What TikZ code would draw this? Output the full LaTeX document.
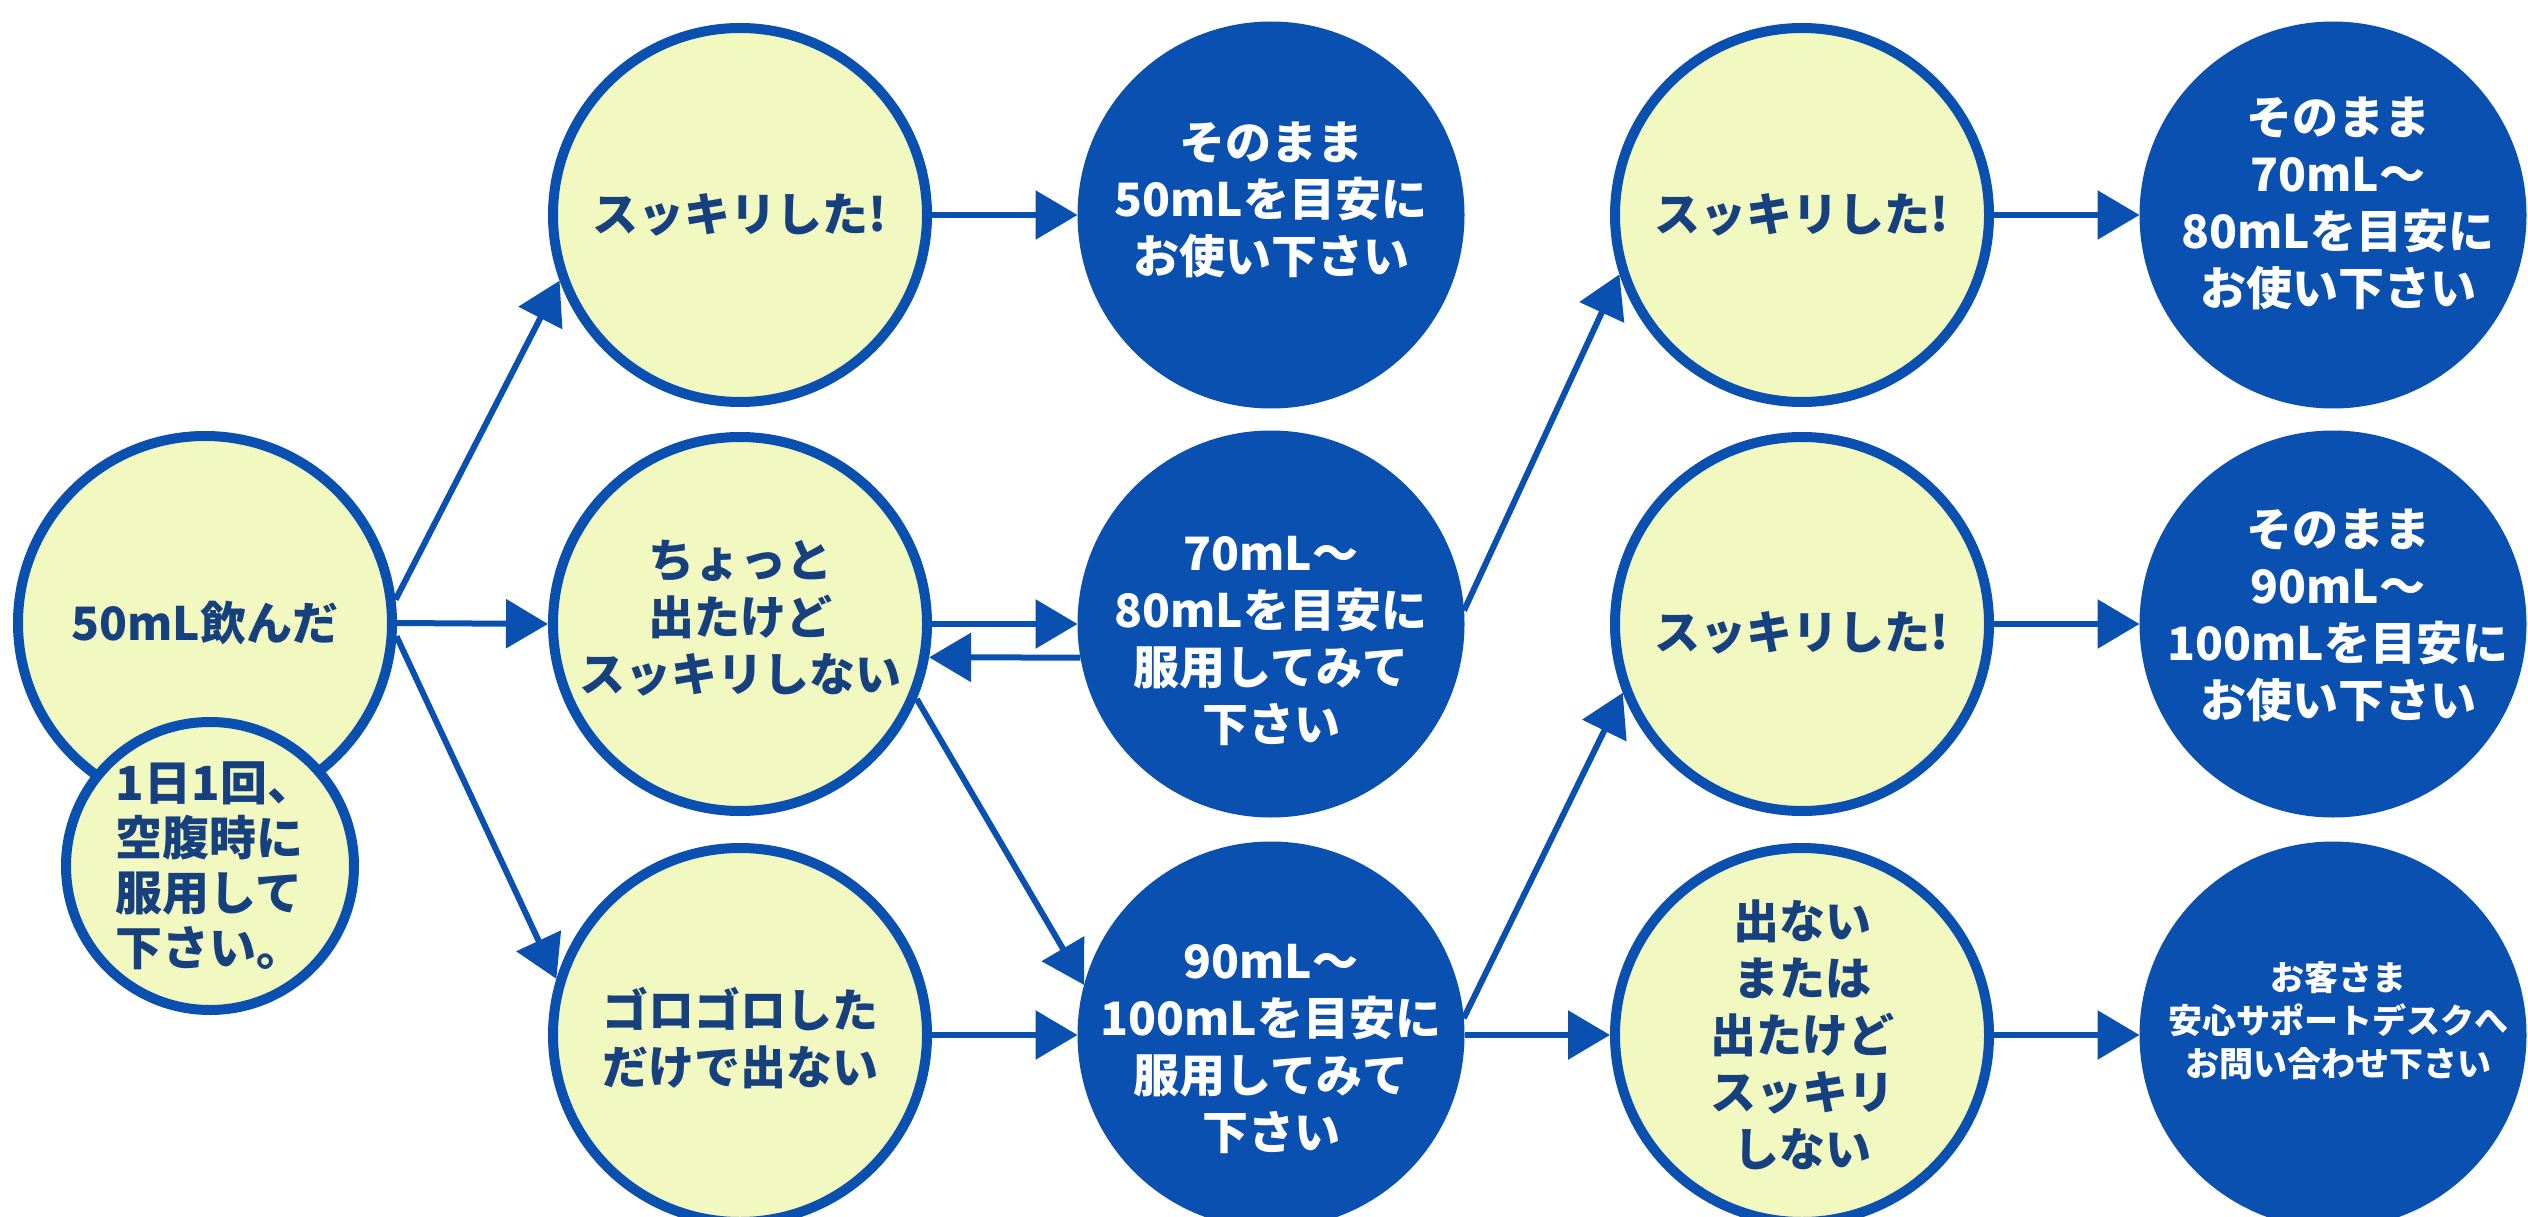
\documentclass[tikz,border=0pt]{standalone}
\usepackage{fontspec}
\setmainfont{Noto Sans CJK JP}
\usetikzlibrary{arrows.meta}
\definecolor{cblue}{HTML}{0A50B0}
\definecolor{cyel}{HTML}{F1F9C1}
\definecolor{cnavy}{HTML}{17407F}
\newcommand\fmain{\fontsize{46}{57}\selectfont\bfseries}
\newcommand\fnote{\fontsize{47}{55}\selectfont\bfseries}
\newcommand\fsmall{\fontsize{34}{43}\selectfont\bfseries}
\tikzset{
  lc/.style={circle, draw=cblue, line width=10pt, fill=cyel, minimum size=374pt, inner sep=0pt},
  dc/.style={circle, fill=cblue, draw=none, minimum size=387pt, inner sep=0pt, outer sep=0pt},
  lt/.style={text=cnavy, font=\fmain, align=center, inner sep=0pt},
  dt/.style={text=white, font=\fmain, align=center, inner sep=0pt},
  arr/.style={draw=cblue, line width=6pt, -{Triangle[length=42pt,width=48pt]}},
}
\begin{document}
\begin{tikzpicture}[x=1pt,y=-1pt]
\useasboundingbox (0,0) rectangle (2528,1217);
\fill[white] (0,0) rectangle (2528,1217);
\clip (0,0) rectangle (2528,1217);
% circles
\node[lc] (c0) at (205,623) {};
\node[lc, minimum size=288pt] (c0s) at (210,866) {};
\node[lc] (c1t) at (740,215) {};
\node[lc] (c1m) at (740,624) {};
\node[lc] (c1b) at (740,1035) {};
\node[dc] (c2t) at (1271,215) {};
\node[dc] (c2m) at (1271,624) {};
\node[dc] (c2b) at (1271,1035) {};
\node[lc] (c3t) at (1802,215) {};
\node[lc] (c3m) at (1802,624) {};
\node[lc] (c3b) at (1802,1035) {};
\node[dc] (c4t) at (2333,215) {};
\node[dc] (c4m) at (2333,624) {};
\node[dc] (c4b) at (2333,1035) {};
% texts
\node[lt] (t0) at (c0.center) {50mL飲んだ};
\node[lt, font=\fnote, align=left] (t0s) at ([xshift=5pt]c0s.center) {1日1回、\\空腹時に\\服用して\\下さい。};
\node[lt] (t1t) at (c1t.center) {スッキリした!};
\node[lt] (t1m) at ([yshift=6pt]c1m.center) {ちょっと\\出たけど\\スッキリしない};
\node[lt] (t1b) at ([yshift=-3pt]c1b.center) {ゴロゴロした\\だけで出ない};
\node[dt] (t2t) at ([yshift=15pt]c2t.center) {そのまま\\50mLを目安に\\お使い下さい};
\node[dt] (t2m) at ([yshift=-17pt]c2m.center) {70mL～\\80mLを目安に\\服用してみて\\下さい};
\node[dt] (t2b) at ([yshift=-14pt]c2b.center) {90mL～\\100mLを目安に\\服用してみて\\下さい};
\node[lt] (t3t) at (c3t.center) {スッキリした!};
\node[lt] (t3m) at ([yshift=-9pt]c3m.center) {スッキリした!};
\node[lt] (t3b) at (c3b.center) {出ない\\または\\出たけど\\スッキリ\\しない};
\node[dt] (t4t) at ([xshift=5pt,yshift=12pt]c4t.center) {そのまま\\70mL～\\80mLを目安に\\お使い下さい};
\node[dt] (t4m) at ([xshift=5pt,yshift=9pt]c4m.center) {そのまま\\90mL～\\100mLを目安に\\お使い下さい};
\node[dt, font=\fsmall] (t4b) at ([xshift=5pt,yshift=14pt]c4b.center) {お客さま\\安心サポートデスクへ\\お問い合わせ下さい};
% connectors
\draw[arr] (c0.7) -- (c1t.200);
\draw[arr] (c0.east) -- (c1m.west);
\draw[arr] (c0.-4) -- (c1b.163);
\draw[arr] (c1t.east) -- (c2t.west);
\draw[arr] (c1m.east) -- (c2m.west);
\draw[arr] (c2m.190) -- (c1m.350);
\draw[arr] (c1m.-23) -- (c2b.165);
\draw[arr] (c1b.east) -- (c2b.west);
\draw[arr] (c2m.4) -- (c3t.198);
\draw[arr] (c2b.5) -- (c3m.201);
\draw[arr] (c2b.east) -- (c3b.west);
\draw[arr] (c3t.east) -- (c4t.west);
\draw[arr] (c3m.east) -- (c4m.west);
\draw[arr] (c3b.east) -- (c4b.west);
\end{tikzpicture}
\end{document}
